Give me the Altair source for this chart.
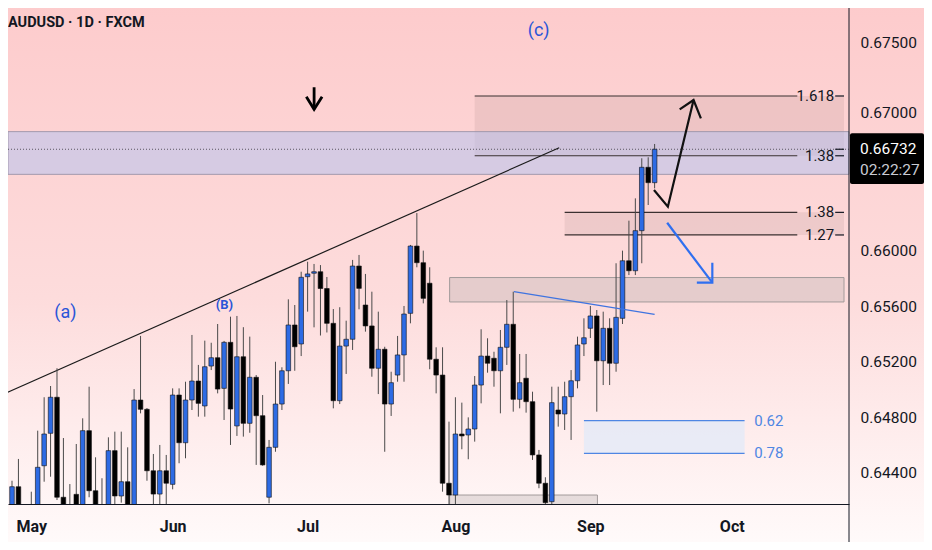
import altair as alt
import pandas as pd

# ---------------- candle data (daily, index 0 = first visible bar) ----------------
opens = [0.64130, 0.64299, 0.64140, 0.64150, 0.64120, 0.64450, 0.64684, 0.64944, 0.64223, 0.64130,
         0.64244, 0.64140, 0.64703, 0.64270, 0.64160, 0.64140, 0.64559, 0.64232, 0.64335, 0.64140,
         0.64924, 0.64857, 0.64414, 0.64246, 0.64414, 0.64316, 0.64960, 0.64616, 0.64924, 0.65061,
         0.64881, 0.65169, 0.65229, 0.65008, 0.65340, 0.64737, 0.65236, 0.64756, 0.65088, 0.64811,
         0.64223, 0.64583, 0.64895, 0.65135, 0.65465, 0.65328, 0.65813, 0.65838, 0.65849, 0.65728,
         0.65477, 0.64919, 0.65313, 0.65362, 0.65890, 0.65609, 0.65458, 0.65153, 0.65290, 0.64895,
         0.65104, 0.65249, 0.65549, 0.66034, 0.65914, 0.65766, 0.65218, 0.65104, 0.64324, 0.64239,
         0.64679, 0.64672, 0.64715, 0.65032, 0.65241, 0.65225, 0.65135, 0.65304, 0.65470, 0.64929,
         0.65081, 0.64912, 0.64528, 0.64324, 0.64191, 0.64852, 0.64823, 0.64948, 0.65063, 0.65328,
         0.65441, 0.65530, 0.65207, 0.65441, 0.65189, 0.65513, 0.65928, 0.65856, 0.66145, 0.66602,
         0.66491]
highs = [0.64342, 0.64499, 0.64160, 0.64263, 0.64703, 0.64944, 0.65025, 0.65153, 0.64650, 0.64318,
         0.64607, 0.64792, 0.65020, 0.64511, 0.64360, 0.64655, 0.64696, 0.64696, 0.64583, 0.65003,
         0.65386, 0.64866, 0.64535, 0.64600, 0.64528, 0.65008, 0.65008, 0.65056, 0.65393, 0.65177,
         0.65352, 0.65337, 0.65472, 0.65350, 0.65525, 0.65530, 0.65449, 0.65381, 0.65104, 0.64960,
         0.64636, 0.65200, 0.65160, 0.65650, 0.65609, 0.65849, 0.65921, 0.65905, 0.65897, 0.65811,
         0.65580, 0.65593, 0.65496, 0.65934, 0.65970, 0.65833, 0.65705, 0.65561, 0.65308, 0.65128,
         0.65386, 0.65602, 0.66042, 0.66272, 0.66001, 0.65881, 0.65304, 0.65304, 0.64768, 0.64944,
         0.64905, 0.64799, 0.65097, 0.65434, 0.65369, 0.65272, 0.65429, 0.65645, 0.65705, 0.65256,
         0.65256, 0.64984, 0.64564, 0.64367, 0.65020, 0.65020, 0.65056, 0.65140, 0.65381, 0.65513,
         0.65602, 0.65573, 0.65561, 0.65513, 0.65910, 0.66001, 0.66217, 0.66378, 0.66667, 0.66674,
         0.66770]
lows = [0.64060, 0.64050, 0.64040, 0.64050, 0.64080, 0.64335, 0.64371, 0.64203, 0.64100, 0.64100,
        0.64100, 0.64120, 0.64223, 0.64100, 0.64090, 0.64110, 0.64170, 0.64184, 0.64100, 0.64100,
        0.64828, 0.64342, 0.64160, 0.64160, 0.64160, 0.64280, 0.64468, 0.64504, 0.64852, 0.64804,
        0.64804, 0.65140, 0.64972, 0.64780, 0.64600, 0.64665, 0.64660, 0.64688, 0.64456, 0.64450,
        0.64179, 0.64551, 0.64852, 0.65040, 0.65135, 0.65241, 0.65561, 0.65448, 0.65389, 0.65411,
        0.64864, 0.64895, 0.65112, 0.65285, 0.65578, 0.65417, 0.65092, 0.64967, 0.64551, 0.64809,
        0.65056, 0.65056, 0.65477, 0.65881, 0.65621, 0.65146, 0.64972, 0.64263, 0.64160, 0.64160,
        0.64569, 0.64497, 0.64624, 0.64900, 0.65121, 0.65020, 0.64828, 0.65177, 0.64840, 0.64864,
        0.64833, 0.64492, 0.64288, 0.64160, 0.64160, 0.64732, 0.64708, 0.64636, 0.65008, 0.65241,
        0.65371, 0.64840, 0.65032, 0.65032, 0.65128, 0.65472, 0.65825, 0.65825, 0.65910, 0.66330,
        0.66450]
closes = [0.64299, 0.64120, 0.64080, 0.64100, 0.64439, 0.64679, 0.64944, 0.64223, 0.64140, 0.64160,
          0.64140, 0.64703, 0.64270, 0.64140, 0.64120, 0.64559, 0.64232, 0.64335, 0.64140, 0.64924,
          0.64857, 0.64414, 0.64246, 0.64414, 0.64324, 0.64960, 0.64616, 0.64924, 0.65061, 0.64900,
          0.65164, 0.65229, 0.65003, 0.65340, 0.64859, 0.65236, 0.64756, 0.65088, 0.64811, 0.64456,
          0.64583, 0.64895, 0.65135, 0.65465, 0.65308, 0.65809, 0.65833, 0.65849, 0.65728, 0.65477,
          0.64919, 0.65313, 0.65362, 0.65890, 0.65729, 0.65458, 0.65153, 0.65290, 0.64895, 0.65049,
          0.65249, 0.65544, 0.66034, 0.65914, 0.65657, 0.65218, 0.65104, 0.64324, 0.64239, 0.64679,
          0.64665, 0.64715, 0.65032, 0.65241, 0.65189, 0.65135, 0.65304, 0.65470, 0.64929, 0.65049,
          0.64912, 0.64528, 0.64324, 0.64184, 0.64905, 0.64823, 0.64948, 0.65063, 0.65321, 0.65373,
          0.65530, 0.65207, 0.65441, 0.65189, 0.65520, 0.65928, 0.65856, 0.66145, 0.66602, 0.66491,
          0.66732]

month_names = ["May", "Jun", "Jul", "Aug", "Sep", "Oct"]
month_index = [3, 25, 46, 69, 90, 112]
price_ticks = [0.644, 0.648, 0.652, 0.656, 0.660, 0.670, 0.675]

title_text = "AUDUSD · 1D · FXCM"
last_price = 0.66732
last_price_label = "0.66732"
countdown = "02:22:27"

# ---------------- drawing levels / anchors (price, bar index) ----------------
band_levels = [0.66859, 0.66551]                 # lavender resistance band
ext_upper_levels = [0.67116, 0.66685]            # 1.618 / 1.38
ext_upper_labels = ["1.618", "1.38"]
ext_lower_levels = [0.66277, 0.66114]            # 1.38 / 1.27
ext_lower_labels = ["1.38", "1.27"]
zone_levels = [0.65807, 0.65631]                 # grey zone
base_zone_levels = [0.64239, 0.63900]            # bottom grey zone
retr_levels = [0.64775, 0.64540]                 # 0.62 / 0.78
retr_labels = ["0.62", "0.78"]

ext_upper_start = 72.0
ext_lower_start = 86.0
fib_line_end = 122.2
fib_label_x = 127.95
axis_tick_start = 128.1
zone_start = 68.1
base_zone_end = 91.1
retr_start = 89.0
retr_end = 114.0
retr_label_x = 115.5

trend_x = [-1.08, 85.15]
trend_y = [0.64972, 0.66743]
blue_trend_x = [78.1, 100.0]
blue_trend_y = [0.65705, 0.65542]
path_x = [99.9, 102.06, 106.06]
path_y = [0.66438, 0.66318, 0.67087]
head_x = [103.9, 106.06, 107.2]
head_y = [0.67020, 0.67087, 0.66955]
blue_arrow_x = [101.95, 108.98]
blue_arrow_y = [0.66202, 0.65770]
blue_head_x = [108.98, 108.98, 106.57]
blue_head_y = [0.65914, 0.65770, 0.65770]
down_x = [47.01, 47.01]
down_y = [0.67179, 0.67020]
down_head_x = [45.8, 47.01, 48.25]
down_head_y = [0.67111, 0.67020, 0.67111]

wave_labels = ["(a)", "(B)", "(c)"]
wave_x = [8.3, 33.06, 81.96]
wave_y = [0.65551, 0.65609, 0.67585]

tag_top = 0.66847
tag_bottom = 0.66481
countdown_y = 0.66582

# ---------------- layout ----------------
W, H = 841, 496
PAD_R, PAD_B = 75, 38
XD = [0.154, 129.47]
YD = [0.641743, 0.677504]
BLUE = "#2d6be4"
INK = "#131722"
WAVE = "#2a55d8"
FONT = "Roboto"

xs = alt.Scale(domain=XD, nice=False, zero=False)
ys = alt.Scale(domain=YD, nice=False, zero=False)

label_expr = "".join(f"datum.value == {v} ? '{m}' : " for v, m in zip(month_index, month_names)) + "''"
xaxis = alt.Axis(values=month_index, labelExpr=label_expr, ticks=False, grid=False, domain=True,
                 domainColor=INK, domainWidth=1, labelFontSize=16, labelColor=INK, labelFont=FONT,
                 labelFontWeight="bold", labelPadding=14, title=None, labelFlush=False,
                 labelOverlap=False, zindex=2)
yaxis = alt.Axis(orient="right", values=price_ticks, format=".5f", ticks=False, grid=False,
                 domain=False, labelFontSize=15.5, labelColor=INK, labelFont=FONT, labelPadding=11,
                 title=None, labelOverlap=False, zindex=2)


def X(f):
    return alt.X(f"{f}:Q", scale=xs, axis=xaxis)


def Y(f):
    return alt.Y(f"{f}:Q", scale=ys, axis=yaxis)


one = pd.DataFrame({"k": [0]})

bg = alt.Chart(one).mark_rect(
    color=alt.Gradient(gradient="linear",
                       stops=[alt.GradientStop(color="#fdcbcc", offset=0),
                              alt.GradientStop(color="#fddcdc", offset=0.55),
                              alt.GradientStop(color="#fffafa", offset=1)],
                       x1=0, x2=0, y1=0, y2=1)
).encode(x=alt.value(-8), x2=alt.value(W + PAD_R), y=alt.value(-8), y2=alt.value(H + PAD_B))

band_df = pd.DataFrame({"y": [band_levels[0]], "y2": [band_levels[1]]})
band = alt.Chart(band_df).mark_rect(fill="#b0c2f2", fillOpacity=0.5, stroke="#9a94a8",
                                    strokeWidth=1, strokeOpacity=0.9).encode(
    x=alt.value(0), x2=alt.value(W), y=Y("y"), y2="y2")

ext_box_df = pd.DataFrame({"x": [ext_upper_start, ext_lower_start], "x2": [XD[1], XD[1]],
                           "y": [ext_upper_levels[0], ext_lower_levels[0]],
                           "y2": [ext_upper_levels[1], ext_lower_levels[1]]})
ext_box = alt.Chart(ext_box_df).mark_rect(fill="#8e6f6f", fillOpacity=0.13).encode(
    x=X("x"), x2="x2", y=Y("y"), y2="y2")

zone_df = pd.DataFrame({"x": [zone_start, zone_start], "x2": [XD[1], base_zone_end],
                        "y": [zone_levels[0], base_zone_levels[0]],
                        "y2": [zone_levels[1], base_zone_levels[1]]})
zones = alt.Chart(zone_df).mark_rect(fill="#bdb4b4", fillOpacity=0.38, stroke="#a29a9a",
                                     strokeWidth=1, clip=True).encode(
    x=X("x"), x2="x2", y=Y("y"), y2="y2")

retr_df = pd.DataFrame({"x": [retr_start], "x2": [retr_end], "y": [retr_levels[0]], "y2": [retr_levels[1]]})
retr_box = alt.Chart(retr_df).mark_rect(fill="#e4eaf8", fillOpacity=0.8).encode(
    x=X("x"), x2="x2", y=Y("y"), y2="y2")
retr_lines_df = pd.DataFrame({"x": [retr_start] * 2, "x2": [retr_end] * 2, "y": retr_levels})
retr_lines = alt.Chart(retr_lines_df).mark_rule(color="#4f86e3", strokeWidth=1.2).encode(
    x=X("x"), x2="x2", y=Y("y"))
retr_text_df = pd.DataFrame({"x": [retr_label_x] * 2, "y": retr_levels, "t": retr_labels})
retr_text = alt.Chart(retr_text_df).mark_text(align="left", baseline="middle", fontSize=15,
                                              font=FONT, color="#4f86e3").encode(
    x=X("x"), y=Y("y"), text="t:N")

fib_lines_df = pd.DataFrame({
    "x": [ext_upper_start, ext_upper_start, ext_lower_start, ext_lower_start],
    "x2": [fib_line_end] * 4,
    "y": ext_upper_levels + ext_lower_levels})
fib_lines = alt.Chart(fib_lines_df).mark_rule(color="#3a3030", strokeWidth=1.2).encode(
    x=X("x"), x2="x2", y=Y("y"))
fib_text_df = pd.DataFrame({"x": [fib_label_x] * 4, "y": ext_upper_levels + ext_lower_levels,
                            "t": ext_upper_labels + ext_lower_labels})
fib_text = alt.Chart(fib_text_df).mark_text(align="right", baseline="middle", fontSize=15,
                                            font=FONT, color=INK).encode(
    x=X("x"), y=Y("y"), text="t:N")
tick_df = pd.DataFrame({"x": [axis_tick_start] * 5, "x2": [XD[1]] * 5,
                        "y": ext_upper_levels + ext_lower_levels + [last_price]})
axis_ticks = alt.Chart(tick_df).mark_rule(color=INK, strokeWidth=1.2).encode(
    x=X("x"), x2="x2", y=Y("y"))

price_line_df = pd.DataFrame({"y": [last_price]})
price_line = alt.Chart(price_line_df).mark_rule(color="#5a5560", strokeWidth=1, strokeDash=[1, 2]).encode(
    x=alt.value(0), x2=alt.value(W), y=Y("y"))

trend_df = pd.DataFrame({"x": trend_x, "y": trend_y})
trend = alt.Chart(trend_df).mark_line(color="#1b1b1b", strokeWidth=1.2, clip=True).encode(
    x=X("x"), y=Y("y"))
btrend_df = pd.DataFrame({"x": blue_trend_x, "y": blue_trend_y})
btrend = alt.Chart(btrend_df).mark_line(color="#3f74e0", strokeWidth=1.3).encode(
    x=X("x"), y=Y("y"))

candles = pd.DataFrame({"i": list(range(len(opens))), "open": opens, "high": highs,
                        "low": lows, "close": closes})
wicks = alt.Chart(candles).mark_rule(color="#4a4a4a", strokeWidth=1, clip=True).encode(
    x=X("i"), y=Y("low"), y2="high")
bodies = alt.Chart(candles).mark_bar(size=4.6, clip=True, stroke="#111111", strokeWidth=0.6).encode(
    x=X("i"), y=Y("open"), y2="close",
    color=alt.condition("datum.close >= datum.open", alt.value(BLUE), alt.value("#000000")))


def poly(xv, yv, group):
    return pd.DataFrame({"x": xv, "y": yv, "o": list(range(len(xv))), "g": [group] * len(xv)})


black_arrow_df = pd.concat([poly(path_x, path_y, "a"), poly(head_x, head_y, "b")])
black_arrow = alt.Chart(black_arrow_df).mark_line(color="#111111", strokeWidth=2.2,
                                                  strokeJoin="miter").encode(
    x=X("x"), y=Y("y"), order="o:Q", detail="g:N")
blue_arrow_df = pd.concat([poly(blue_arrow_x, blue_arrow_y, "a"), poly(blue_head_x, blue_head_y, "b")])
blue_arrow = alt.Chart(blue_arrow_df).mark_line(color="#2f6ff0", strokeWidth=2.2).encode(
    x=X("x"), y=Y("y"), order="o:Q", detail="g:N")
down_df = pd.concat([poly(down_x, down_y, "a"), poly(down_head_x, down_head_y, "b")])
down_arrow = alt.Chart(down_df).mark_line(color="#000000", strokeWidth=2.8).encode(
    x=X("x"), y=Y("y"), order="o:Q", detail="g:N")

wave_df = pd.DataFrame({"x": wave_x, "y": wave_y, "t": wave_labels})
wave_big = alt.Chart(wave_df[wave_df.t != "(B)"]).mark_text(
    fontSize=18, font=FONT, color=WAVE, baseline="middle").encode(x=X("x"), y=Y("y"), text="t:N")
wave_small = alt.Chart(wave_df[wave_df.t == "(B)"]).mark_text(
    fontSize=13, font=FONT, fontWeight="bold", color=WAVE, baseline="middle").encode(
    x=X("x"), y=Y("y"), text="t:N")

title = alt.Chart(pd.DataFrame({"t": [title_text]})).mark_text(
    align="left", baseline="middle", fontSize=14.5, font=FONT, fontWeight="bold", color=INK).encode(
    x=alt.value(0), y=alt.value(15), text="t:N")

vaxis = alt.Chart(one).mark_rule(color=INK, strokeWidth=1).encode(
    x=alt.value(W), y=alt.value(-8), y2=alt.value(H + PAD_B))

tag_df = pd.DataFrame({"y": [tag_top], "y2": [tag_bottom]})
tag = alt.Chart(tag_df).mark_rect(color="#000000", cornerRadius=2).encode(
    x=alt.value(W + 1), x2=alt.value(W + PAD_R), y=Y("y"), y2="y2")
tag_text_df = pd.DataFrame({"y": [last_price, countdown_y], "t": [last_price_label, countdown],
                            "c": ["price", "time"]})
tag_price = alt.Chart(tag_text_df[tag_text_df.c == "price"]).mark_text(
    align="left", baseline="middle", fontSize=15.5, font=FONT, color="#ffffff").encode(
    x=alt.value(W + 11), y=Y("y"), text="t:N")
tag_time = alt.Chart(tag_text_df[tag_text_df.c == "time"]).mark_text(
    align="left", baseline="middle", fontSize=15.5, font=FONT, color="#c9ccd4").encode(
    x=alt.value(W + 11), y=Y("y"), text="t:N")

chart = alt.layer(
    bg, ext_box, band, zones, retr_box, retr_lines, retr_text, price_line,
    fib_lines, fib_text, axis_ticks, trend, wicks, bodies, btrend,
    black_arrow, blue_arrow, down_arrow, wave_big, wave_small, title, vaxis,
    tag, tag_price, tag_time
).properties(
    width=W, height=H,
    autosize=alt.AutoSizeParams(type="none"),
    padding={"left": 0, "top": 0, "right": PAD_R, "bottom": PAD_B},
    background="#ffffff"
).configure_view(strokeWidth=0)

chart.save("out.html", embed_options={"renderer": "svg", "actions": False})
